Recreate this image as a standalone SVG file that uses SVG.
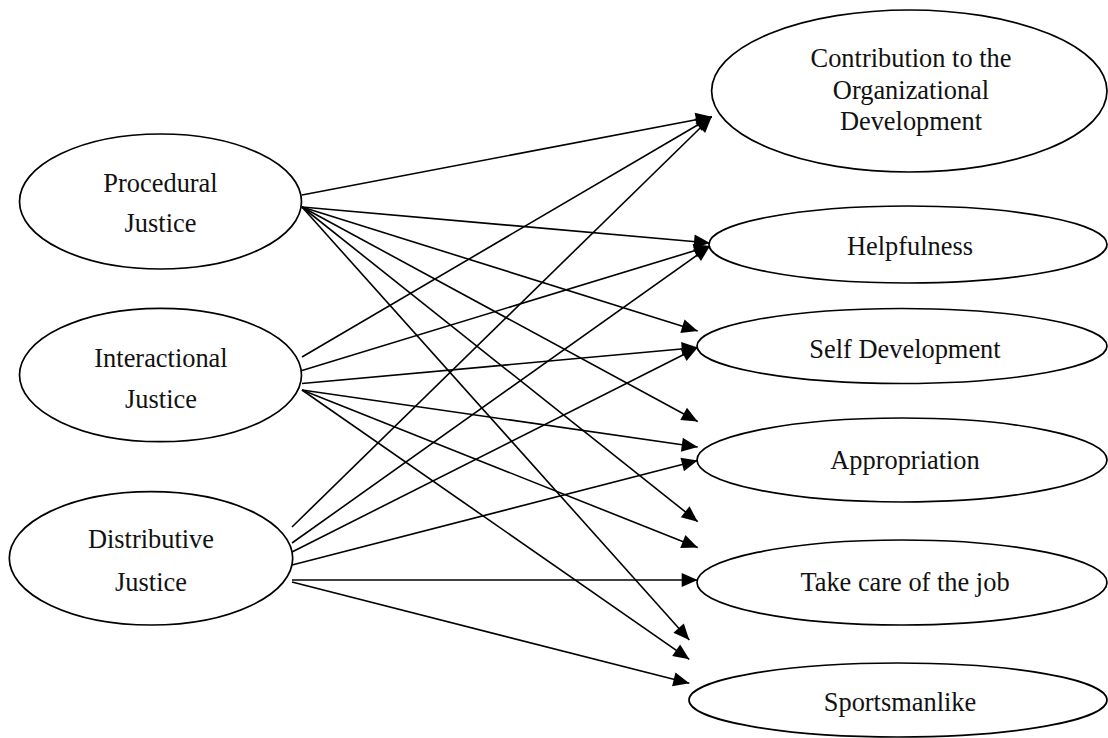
<svg xmlns="http://www.w3.org/2000/svg" width="1108" height="738" viewBox="0 0 1108 738">
<style>
.n ellipse{fill:#fff;stroke:#000;stroke-width:1.7}
.n text{font-family:"Liberation Serif","Times New Roman",serif;font-size:26.4px;fill:#111;text-anchor:middle}
.c line{stroke:#000;stroke-width:1.6;marker-end:url(#ah)}
</style>
<defs>
<marker id="ah" markerUnits="userSpaceOnUse" markerWidth="17" markerHeight="15" refX="16" refY="7" orient="auto" overflow="visible">
<path d="M0,0 L16,7 L0,14 Z" fill="#000"/>
</marker>
</defs>
<rect width="1108" height="738" fill="#fff"/>
<g id="n-procedural" class="n">
<ellipse cx="160.5" cy="201.5" rx="141" ry="67.5"/>
<text x="160.5" y="192">Procedural</text>
<text x="160.5" y="232">Justice</text>
</g>
<g id="n-interactional" class="n">
<ellipse cx="160.5" cy="375" rx="141" ry="66.7"/>
<text x="161" y="367">Interactional</text>
<text x="161" y="408">Justice</text>
</g>
<g id="n-distributive" class="n">
<ellipse cx="151" cy="558.3" rx="141.7" ry="66.7"/>
<text x="151" y="548">Distributive</text>
<text x="151" y="591">Justice</text>
</g>
<g id="n-contribution" class="n">
<ellipse cx="909.3" cy="91" rx="197.7" ry="81"/>
<text x="911" y="67">Contribution to the</text>
<text x="911" y="98.5">Organizational</text>
<text x="911" y="130">Development</text>
</g>
<g id="n-helpfulness" class="n">
<ellipse cx="908" cy="244.5" rx="199" ry="38.5"/>
<text x="910" y="255">Helpfulness</text>
</g>
<g id="n-selfdev" class="n">
<ellipse cx="902" cy="346" rx="205" ry="37.5"/>
<text x="905" y="357.5">Self Development</text>
</g>
<g id="n-appropriation" class="n">
<ellipse cx="902" cy="460" rx="205" ry="42"/>
<text x="905" y="468.5">Appropriation</text>
</g>
<g id="n-takecare" class="n">
<ellipse cx="902" cy="582.5" rx="205" ry="42.5"/>
<text x="905" y="591">Take care of the job</text>
</g>
<g id="n-sportsmanlike" class="n">
<ellipse cx="898" cy="700" rx="209" ry="37"/>
<text x="900" y="711">Sportsmanlike</text>
</g>
<g id="connectors" class="c">
<line x1="302" y1="195" x2="711.7" y2="116.7"/>
<line x1="302" y1="207" x2="710" y2="243"/>
<line x1="302" y1="207" x2="697.7" y2="331"/>
<line x1="302" y1="207" x2="697.7" y2="421.5"/>
<line x1="302" y1="207" x2="697.7" y2="521.7"/>
<line x1="302" y1="207" x2="689.3" y2="640"/>
<line x1="302" y1="357" x2="711.7" y2="116.7"/>
<line x1="302" y1="370.5" x2="710" y2="246"/>
<line x1="302" y1="383.5" x2="697.7" y2="347.5"/>
<line x1="302" y1="390" x2="697.7" y2="447"/>
<line x1="302" y1="390" x2="697.7" y2="547.5"/>
<line x1="302" y1="390" x2="689.3" y2="659.3"/>
<line x1="292" y1="527" x2="711.7" y2="116.7"/>
<line x1="292" y1="543" x2="710" y2="246"/>
<line x1="292" y1="552" x2="697.7" y2="347.5"/>
<line x1="292" y1="565" x2="697.7" y2="460.5"/>
<line x1="292" y1="580" x2="697.7" y2="580"/>
<line x1="292" y1="582" x2="689.3" y2="683.3"/>
</g>
</svg>
